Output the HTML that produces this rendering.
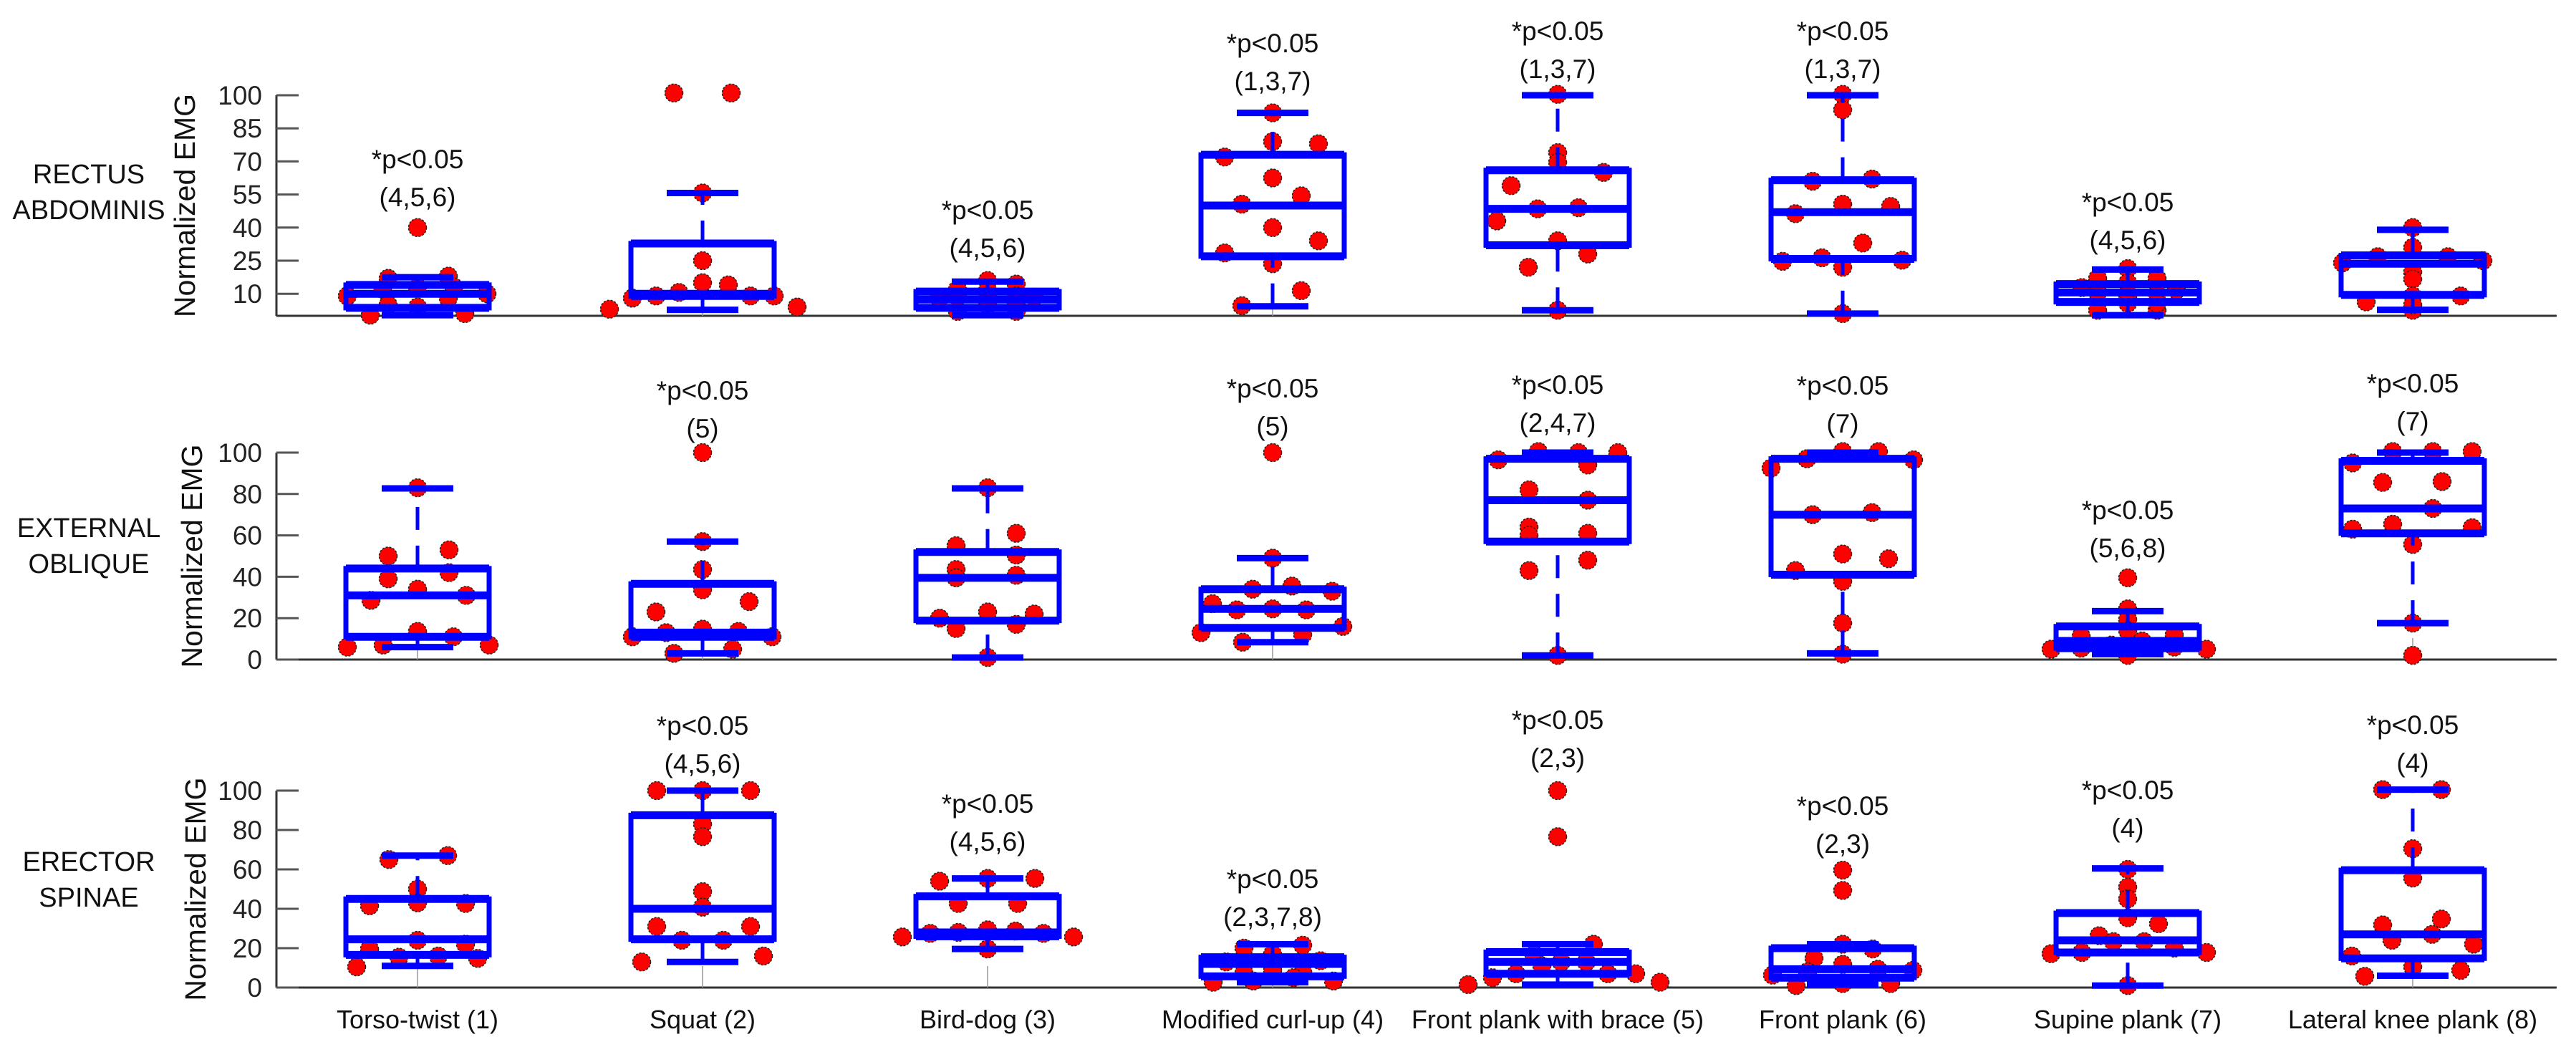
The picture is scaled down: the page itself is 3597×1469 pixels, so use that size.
<!DOCTYPE html>
<html><head><meta charset="utf-8"><style>
html,body{margin:0;padding:0;background:#fff;}
svg{display:block;font-family:"Liberation Sans",Arial,sans-serif;}
</style></head><body>
<svg id="chart" width="3597" height="1469" viewBox="0 0 3597 1469" xmlns="http://www.w3.org/2000/svg"></svg>
<script>
const categories = ["Torso-twist (1)","Squat (2)","Bird-dog (3)","Modified curl-up (4)","Front plank with brace (5)","Front plank (6)","Supine plank (7)","Lateral knee plank (8)"];
const muscles = [["RECTUS","ABDOMINIS"],["EXTERNAL","OBLIQUE"],["ERECTOR","SPINAE"]];
const ticksRA = [10,25,40,55,70,85,100];
const ticksEO = [0,20,40,60,80,100];
const ticksES = [0,20,40,60,80,100];
// box stats: [whiskerLow, q1, median, q3, whiskerHigh]
const statsRA = [[0.3,3.6,10,14,17.5],[2.7,9,10,32.8,55.7],[0.3,3.6,7.4,11,15.5],[4.3,27,50,73,92],[2.5,32,48.5,66,100],[1,25.8,47,61.5,100],[0.3,6.3,10.6,14.4,21],[2.7,9.5,23.6,27.4,39]];
const statsEO = [[6,11,31,44,82.7],[3,11,13,36.6,57],[1,18.8,39.5,52,82.7],[8.4,15.3,24.5,34,49],[2,57,77,97,100],[3,41,70,97,100],[2.6,5.5,9,16,23.4],[17.6,61,73,96,100]];
const statsES = [[11,16.6,24.5,45,67],[13,24.5,40,87.5,100],[19.6,26,28,46.3,55.4],[2.7,5.7,12,15.4,22],[1.5,7,13,18,22],[1.5,5,9.3,20,22],[1,17.8,24,37.8,60.5],[6,14.8,27,59.6,100.5]];
// individual subject values
const pointsRA = [[9,0.3,12,17,5,13,4,40,18,8,13,1,10],[101,101,55.7,25,15,14,8,9,10.6,9,9,3,4],[8,12,2,16,9,4.7,14.4,9,2,8.4,8.4,6,11.7],[92,79,78,72,62.5,54.4,50.6,40,34,28.5,23.6,11.4,4.6],[100.4,74,69.6,65,59,48.5,49,43,34,28,22,2.5],[100.4,93.4,61,62,50.6,49.6,46.3,33,24.7,26.3,25.2,22,1],[21.4,17,17,12.8,11.7,8,10.6,10,15,2.5,2.5,5.7,5.7],[40,31,26.8,26.8,24,25,19.8,16.6,9,6.3,9,2.5,5]];
const pointsEO = [[6,7,50,39,28.6,83,34,13.6,53,42,11,31,7],[100,57,43.5,33.7,23,28,11,13,14.7,13.6,11,3,5],[83,61,55,50.5,43.5,39.5,40.7,20,23,22,15,17,1],[100,49,34,35.5,33,27,24,24.5,24,13,16,12,8.4],[96.5,100.5,100,100,94,82,77,64,60,61,48,43,2],[92.5,97,100.5,100.5,96.5,70,71,51,48.7,43,37.8,17.6,2.6],[39.5,24.5,19.4,14,11.3,12,7,9,5,5.5,6,5,2],[95,100.5,100.5,100.5,85.6,86,73,63,65.4,63.7,55.6,17.6,2]];
const pointsES = [[65,67,50,41.5,43,42.7,24,22,19.6,15.4,16,14.8,10.5],[100,100,100,83,76.6,48.7,40.8,31,31,24,24,13,16],[54,55.4,55.4,42.7,42.7,25.7,27.5,28,29.3,28.7,27.5,25.7,19.6],[20,21.5,17,13,13.6,10.5,7.5,8,8.7,2.7,3.3,5,3.3],[100,76.6,22,16.6,11,13,13,7,7,5,1.5,7,2.7],[59.6,49.3,22,19.6,14.8,11.8,6.3,8,9.3,8.7,1,2,2],[60,51,45,35.4,32.4,26.3,23.3,23.3,20,17.2,17.8,17.8,1],[100.5,100.5,70.5,55.6,31.8,34.8,27,24,22,16,10.5,8.7,5.7]];
// horizontal jitter (fraction of half box width)
const jitterRA = [[-0.98,-0.66,-0.49,-0.41,-0.41,0,0,0,0.43,0.43,0.51,0.66,0.97],[-0.4,0.4,0,0,0,0.36,-0.98,-0.65,-0.33,0.67,1.0,-1.3,1.32],[-0.67,-0.42,-0.42,0,0,0,0.4,0.4,0.4,0.65,-0.42,0.4,0],[0,0,0.64,-0.67,0,0.4,-0.43,0,0.64,-0.67,0,0.4,-0.43],[0,0,0,0.64,-0.65,-0.28,0.29,-0.85,0,0.42,-0.41,0],[0,0,-0.42,0.41,0,0.67,-0.66,0.28,-0.84,-0.29,0.83,0,0],[0,-0.42,0.41,-0.64,0.68,0,-0.42,0.41,0,-0.42,0.41,0,0.41],[0,0,-0.49,0.49,-0.98,0.98,0,0,0.67,-0.65,0,0,0]];
const jitterEO = [[-0.98,-0.48,-0.41,-0.41,-0.65,0,0,0,0.44,0.44,0.5,0.68,1.0],[0,0,0,0,-0.65,0.65,-0.98,-0.51,0,0.5,0.97,-0.4,0.42],[0,0.4,-0.44,0.4,-0.44,-0.44,0.4,-0.67,0,0.65,-0.44,0.4,0],[0,0,-0.28,0.27,0.83,-0.84,-0.5,0,0.47,-1.0,0.98,0.42,-0.42],[-0.83,-0.27,0.29,0.84,0.42,-0.4,0.42,-0.4,-0.4,0.42,0.42,-0.4,0],[-1.0,-0.5,0,0.5,0.99,-0.42,0.41,0,0.64,-0.66,0,0,0],[0,0,0,0,-0.65,0.65,-0.23,0.2,-1.07,-0.65,0.65,1.1,0],[-0.84,-0.28,0.28,0.83,-0.42,0.41,0.28,-0.84,-0.28,0.83,0,0,0]];
const jitterES = [[-0.4,0.42,0,-0.67,0,0.67,0,0.67,-0.67,-0.26,0.29,0.84,-0.85],[-0.64,0,0.67,0,0,0,0,-0.64,0.67,-0.29,0.29,-0.85,0.85],[-0.67,0,0.66,-0.41,0.42,-1.19,-0.8,-0.41,0,0.39,0.78,1.2,0],[-0.4,0.42,0,-0.65,0.67,0,-0.4,0.42,0,-0.83,-0.27,0.29,0.85],[0,0,0.5,-0.33,-0.22,0.05,0.4,0.7,-0.58,-0.91,-1.25,1.09,1.43],[0,0,0,0.42,-0.4,0,-0.98,-0.49,0.49,0.98,-0.65,0,0.67],[0,0,0,0,0.43,-0.4,-0.2,0.23,0.65,-1.07,-0.64,1.1,0],[-0.42,0.4,0,0,-0.42,0.4,0.27,-0.29,0.85,-0.85,0,0.67,-0.67]];
// significance annotations: group index and label
const annotRA = [[0,"(4,5,6)"],[2,"(4,5,6)"],[3,"(1,3,7)"],[4,"(1,3,7)"],[5,"(1,3,7)"],[6,"(4,5,6)"]];
const annotEO = [[1,"(5)"],[3,"(5)"],[4,"(2,4,7)"],[5,"(7)"],[6,"(5,6,8)"],[7,"(7)"]];
const annotES = [[1,"(4,5,6)"],[2,"(4,5,6)"],[3,"(2,3,7,8)"],[4,"(2,3)"],[5,"(2,3)"],[6,"(4)"],[7,"(4)"]];

const NS = "http://www.w3.org/2000/svg";
const svg = document.getElementById("chart");
function mk(tag, attrs, parent, txt){
  const e = document.createElementNS(NS, tag);
  for (const k in attrs) e.setAttribute(k, attrs[k]);
  if (txt !== undefined) e.textContent = txt;
  (parent || svg).appendChild(e);
  return e;
}
const axisX0 = 386, axisX1 = 3570;
const xCenter = i => 583 + 398 * i;
const HALF = 100;
const panels = [
  {key:"rectus-abdominis", y0:441, y100:133, ticks:ticksRA, stats:statsRA, pts:pointsRA, jit:jitterRA, ann:annotRA, labY:[243,293], ylabX:258},
  {key:"external-oblique", y0:921, y100:632, ticks:ticksEO, stats:statsEO, pts:pointsEO, jit:jitterEO, ann:annotEO, labY:[737,787], ylabX:268},
  {key:"erector-spinae", y0:1379, y100:1104, ticks:ticksES, stats:statsES, pts:pointsES, jit:jitterES, ann:annotES, labY:[1203,1253], ylabX:273}
];
const annTop = [
  {0:222,2:293,3:60,4:43,5:43,6:282},
  {1:545,3:542,4:537,5:538,6:712,7:535},
  {1:1013,2:1122,3:1227,4:1005,5:1125,6:1103,7:1012}
];
panels.forEach((p, pi) => {
  const g = mk("g", {});
  
  
  const ys = v => p.y0 + (p.y100 - p.y0) * v / 100;
  const ml = mk("text", {x:124, y:p.labY[0]+13, "text-anchor":"middle", "font-size":38, fill:"#111"}, g);
  
  
  mk("tspan", {x:124, y:p.labY[0]+13}, ml, muscles[pi][0]);
  mk("tspan", {x:124, y:p.labY[1]+13}, ml, muscles[pi][1]);
  const yc = (ys(100) + p.y0) / 2;
  const yt = mk("text", {x:0, y:0, transform:`translate(${p.ylabX+14},${yc}) rotate(-90)`, "text-anchor":"middle", "font-size":41, fill:"#111"}, g, "Normalized EMG");
  
  
  const ya = mk("line", {x1:axisX0, x2:axisX0, y1:ys(100), y2:p.y0, stroke:"#333", "stroke-width":3}, g);
  
  
  const xa = mk("line", {x1:axisX0, x2:axisX1, y1:p.y0, y2:p.y0, stroke:"#333", "stroke-width":3}, g);
  
  
  p.ticks.forEach(t => {
    const tl = mk("line", {x1:axisX0, x2:axisX0+31, y1:ys(t), y2:ys(t), stroke:"#555", "stroke-width":3}, g);
    
    
    const tt = mk("text", {x:366, y:ys(t)+13, "text-anchor":"end", "font-size":37, fill:"#222"}, g, String(t));
    
    
  });
  categories.forEach((c, i) => {
    const cx = xCenter(i);
    const grid = mk("line", {x1:cx, x2:cx, y1:p.y0, y2:p.y0-30, stroke:"#999", "stroke-width":1.5}, g);
    
    
    const pg = mk("g", {}, g);
    
    
    p.pts[i].forEach((v, k) => {
      const dot = mk("circle", {cx: cx + p.jit[i][k] * HALF, cy: ys(v), r:12.5, fill:"#ff0000", stroke:"#222", "stroke-width":1.5, "stroke-dasharray":"3 2"}, pg);
      
      
    });
    const s = p.stats[i];
    const bg = mk("g", {stroke:"#0000ff", fill:"none"}, g);
    
    
    mk("line", {x1:cx, x2:cx, y1:ys(s[3]), y2:ys(s[4]), "stroke-width":5, "stroke-dasharray":"32 22"}, bg);
    mk("line", {x1:cx, x2:cx, y1:ys(s[0]), y2:ys(s[1]), "stroke-width":5, "stroke-dasharray":"32 22"}, bg);
    mk("line", {x1:cx-50, x2:cx+50, y1:ys(s[4]), y2:ys(s[4]), "stroke-width":9}, bg);
    mk("line", {x1:cx-50, x2:cx+50, y1:ys(s[0]), y2:ys(s[0]), "stroke-width":9}, bg);
    mk("rect", {x:cx-HALF, y:ys(s[3]), width:2*HALF, height:Math.max(1, ys(s[1])-ys(s[3])), "stroke-width":7}, bg);
    mk("line", {x1:cx-HALF, x2:cx+HALF, y1:ys(s[3]), y2:ys(s[3]), "stroke-width":11}, bg);
    mk("line", {x1:cx-HALF, x2:cx+HALF, y1:ys(s[1]), y2:ys(s[1]), "stroke-width":11}, bg);
    mk("line", {x1:cx-HALF, x2:cx+HALF, y1:ys(s[2]), y2:ys(s[2]), "stroke-width":11}, bg);
  });
  p.ann.forEach(a => {
    const cx = xCenter(a[0]);
    const top = annTop[pi][a[0]];
    const t1 = mk("text", {x:cx, y:top+13, "text-anchor":"middle", "font-size":37, fill:"#111"}, g, "*p<0.05");
    
    
    const t2 = mk("text", {x:cx, y:top+66, "text-anchor":"middle", "font-size":37, fill:"#111"}, g, a[1]);
    
    
  });
});
categories.forEach((c, i) => {
  const t = mk("text", {x:xCenter(i), y:1436, "text-anchor":"middle", "font-size":36, fill:"#111"}, svg, c);
  
  
});
</script>
</body></html>
